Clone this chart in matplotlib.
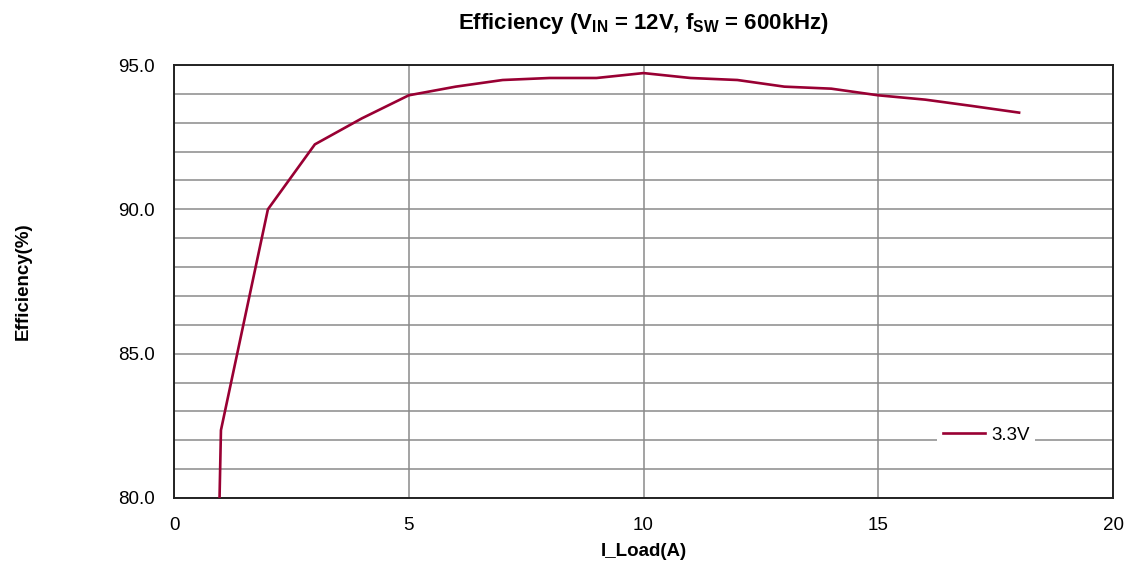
#!/usr/bin/env python3
"""Efficiency vs load current, Vin = 12V, fsw = 600kHz."""
import matplotlib
matplotlib.use("Agg")
import matplotlib.pyplot as plt
from matplotlib.ticker import MultipleLocator

# load current (A) and efficiency (%) for the 3.3V output
i_load = [0.5, 1, 2, 3, 4, 5, 6, 7, 8, 9, 10, 11, 12, 13, 14, 15, 16, 17, 18]
eff_3v3 = [43.2, 82.35, 90.0, 92.25, 93.15, 93.95, 94.25, 94.48, 94.55, 94.55,
           94.72, 94.55, 94.48, 94.25, 94.18, 93.95, 93.8, 93.58, 93.35]
series_label = "3.3V"

FONT = ["Liberation Sans Narrow", "Liberation Sans", "DejaVu Sans"]
plt.rcParams["font.family"] = FONT
plt.rcParams["mathtext.fontset"] = "custom"
plt.rcParams["mathtext.rm"] = "Liberation Sans"
plt.rcParams["mathtext.bf"] = "Liberation Sans:bold"

fig = plt.figure(figsize=(11.28, 5.65), dpi=100)
ax = fig.add_axes([174 / 1128, 1 - 498 / 565, (1113 - 174) / 1128, (498 - 65) / 565])

ax.plot(i_load, eff_3v3, color="#990033", lw=1.9, label=series_label, zorder=3)

ax.set_xlim(0, 20)
ax.set_ylim(80, 95)
ax.xaxis.set_major_locator(MultipleLocator(5))
ax.yaxis.set_major_locator(MultipleLocator(5))
ax.yaxis.set_minor_locator(MultipleLocator(1))
ax.yaxis.set_major_formatter(lambda v, p: f"{v:.1f}")
ax.tick_params(which="both", length=0, labelsize=13.5)
ax.tick_params(axis="y", pad=14)
ax.tick_params(axis="x", pad=14)
ax.grid(which="major", axis="x", color="#8a8a8a", lw=1.1)
ax.grid(which="both", axis="y", color="#8a8a8a", lw=1.1)
for s in ax.spines.values():
    s.set_color("#222222")
    s.set_linewidth(1.4)

ax.set_xlabel("I_Load(A)", fontsize=13.5, fontweight="bold", labelpad=6)
ax.set_ylabel("Efficiency(%)", fontsize=13.5, fontweight="bold", labelpad=62)
fig.text(643.5 / 1128, 1 - 23 / 565,
         r"Efficiency (V$_{\mathbf{IN}}$ = 12V, f$_{\mathbf{SW}}$ = 600kHz)",
         ha="center", va="center", fontsize=16, fontweight="bold")

leg = ax.legend(loc="center", bbox_to_anchor=(0.865, 0.145), frameon=True,
                fontsize=13.5, handlelength=2.25, handletextpad=0.3,
                borderpad=0.3, framealpha=1)
leg.get_frame().set_edgecolor("none")

fig.savefig("out.png", dpi=100)
